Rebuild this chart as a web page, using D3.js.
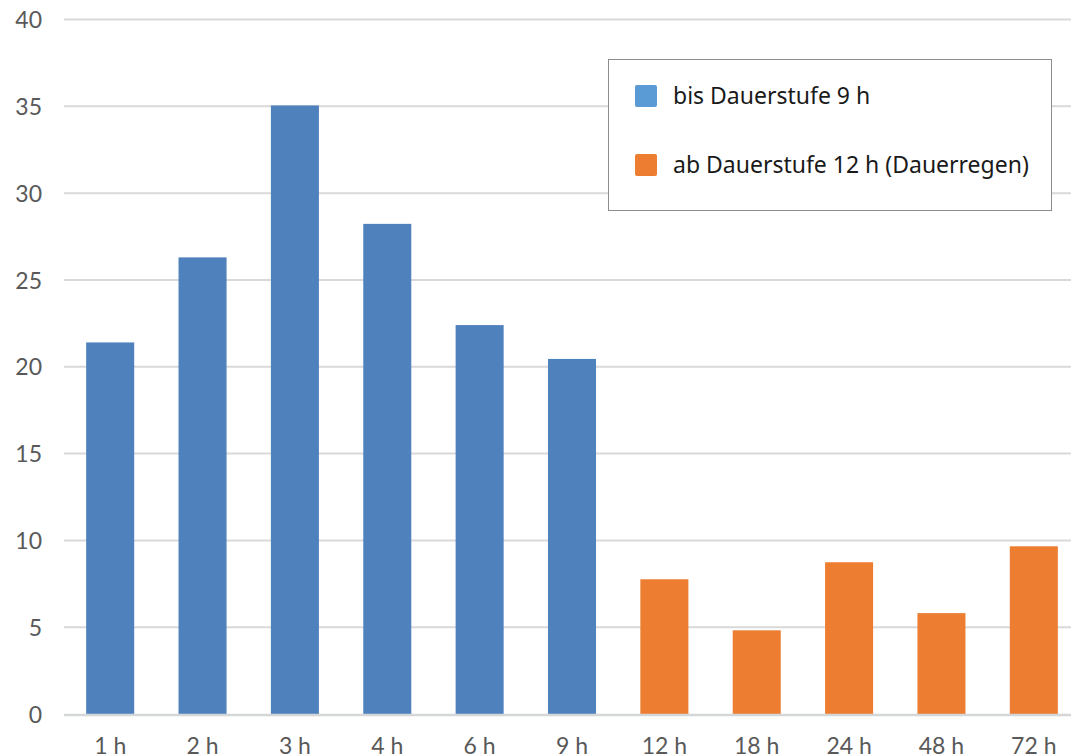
<!DOCTYPE html>
<html>
<head>
<meta charset="utf-8">
<script src="https://cdn.jsdelivr.net/npm/d3@7"></script>
<style>
  html, body { margin: 0; padding: 0; background: #fff; overflow: hidden; }
  svg { display: block; }
  text { font-family: Lato, "Open Sans", sans-serif; }
</style>
</head>
<body>
<svg id="chart" width="1071" height="755"></svg>
<script>
const categories = ["1 h", "2 h", "3 h", "4 h", "6 h", "9 h", "12 h", "18 h", "24 h", "48 h", "72 h"];
const values = [21.4, 26.3, 35.05, 28.23, 22.4, 20.45, 7.76, 4.82, 8.74, 5.81, 9.66];
const groups = ["short", "short", "short", "short", "short", "short", "long", "long", "long", "long", "long"];
const seriesNames = ["bis Dauerstufe 9 h", "ab Dauerstufe 12 h (Dauerregen)"];
const seriesKeys = ["short", "long"];
const yTicks = [0, 5, 10, 15, 20, 25, 30, 35, 40];

const barColors = { short: "#4f81bd", long: "#ed7d31" };
const swatchColors = { short: "#5b9bd5", long: "#ed7d31" };

const svg = d3.select("#chart");
const plotLeft = 64, plotRight = 1080, plotTop = 19.5, plotBottom = 714;

const x = d3.scaleBand().domain(categories).range([plotLeft, plotRight]).paddingInner(0.48).paddingOuter(0.24);
const y = d3.scaleLinear().domain([0, 40]).range([plotBottom, plotTop]);

// gridlines
svg.append("g").selectAll("line").data(yTicks.filter(d => d > 0)).join("line")
  .attr("x1", plotLeft).attr("x2", 1071)
  .attr("y1", d => y(d)).attr("y2", d => y(d))
  .attr("stroke", "#d9d9d9").attr("stroke-width", 2);

// y labels
const yAxis = d3.axisLeft(y).tickValues(yTicks).tickSize(0).tickPadding(0);
const ya = svg.append("g").attr("transform", "translate(42,0)").call(yAxis);
ya.select(".domain").remove();
ya.selectAll("text").attr("font-size", 23).attr("fill", "#595959")
  .attr("font-family", "Lato, 'Open Sans', sans-serif").attr("dy", "0.35em");

// bars
const data = categories.map((c, i) => ({ c, v: values[i], g: groups[i] }));
svg.append("g").selectAll("rect").data(data).join("rect")
  .attr("x", d => x(d.c)).attr("width", x.bandwidth())
  .attr("y", d => y(d.v)).attr("height", d => y(0) - y(d.v))
  .attr("fill", d => barColors[d.g]);

// zero line
svg.append("line").attr("x1", plotLeft).attr("x2", 1071)
  .attr("y1", y(0) + 1).attr("y2", y(0) + 1)
  .attr("stroke", "#d4d6d8").attr("stroke-width", 2.5);

// x labels
const xAxis = d3.axisBottom(x).tickSize(0).tickPadding(0);
const xa = svg.append("g").attr("transform", `translate(0,${plotBottom})`).call(xAxis);
xa.select(".domain").remove();
xa.selectAll("text").attr("font-size", 23).attr("fill", "#595959")
  .attr("font-family", "Lato, 'Open Sans', sans-serif").attr("dy", "0").attr("y", 40);

// legend
const lg = svg.append("g");
lg.append("rect").attr("x", 608.5).attr("y", 59.5).attr("width", 443).attr("height", 151)
  .attr("fill", "#fff").attr("stroke", "#8c8c8c").attr("stroke-width", 1);
seriesKeys.forEach((k, i) => {
  const cy = 96 + i * 69;
  lg.append("rect").attr("x", 635).attr("y", cy - 11).attr("width", 22).attr("height", 22)
    .attr("rx", 2).attr("fill", swatchColors[k]);
  lg.append("text").attr("x", 673).attr("y", cy).attr("dy", "0.35em")
    .style("font-family", "'Noto Sans', 'DejaVu Sans', sans-serif")
    .attr("font-size", 23).attr("fill", "#1a1a1a").text(seriesNames[i]);
});
</script>
</body>
</html>
